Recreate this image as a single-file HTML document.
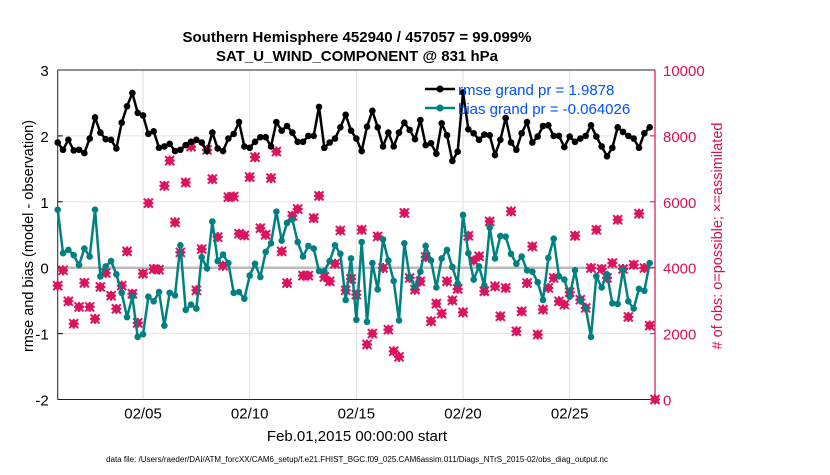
<!DOCTYPE html>
<html><head><meta charset="utf-8"><style>
body{margin:0;background:#fff;}
svg{font-family:"Liberation Sans",sans-serif;}
</style></head><body>
<svg id="chart" width="830" height="470" viewBox="0 0 830 470">
<rect width="830" height="470" fill="#fff"/>
<text x="357" y="42" text-anchor="middle" font-size="15" font-weight="bold">Southern Hemisphere 452940 / 457057 = 99.099%</text>
<text x="357" y="61" text-anchor="middle" font-size="15" font-weight="bold">SAT_U_WIND_COMPONENT @ 831 hPa</text>
<g id="grid"></g>
<g id="axes"></g>
<g id="series"></g>
<g id="legend">
<line x1="425" y1="89" x2="455" y2="89" stroke="#000" stroke-width="2.5"/>
<circle cx="440" cy="89" r="3.5" fill="#000"/>
<text x="458" y="95" font-size="15" fill="#0050ff">rmse grand pr = 1.9878</text>
<line x1="425" y1="108" x2="455" y2="108" stroke="#008080" stroke-width="2.5"/>
<circle cx="440" cy="108" r="3.5" fill="#008080"/>
<text x="458" y="114" font-size="15" fill="#0050ff">bias grand pr = -0.064026</text>
</g>
<text transform="translate(33,236) rotate(-90)" text-anchor="middle" font-size="14.5">rmse and bias (model - observation)</text>
<text transform="translate(722,236) rotate(-90)" text-anchor="middle" font-size="14.5" fill="#d6105a"># of obs: o=possible; ×=assimilated</text>
<text x="357" y="441" text-anchor="middle" font-size="15">Feb.01,2015 00:00:00 start</text>
<text x="357" y="462" text-anchor="middle" font-size="8">data file: /Users/raeder/DAI/ATM_forcXX/CAM6_setup/f.e21.FHIST_BGC.f09_025.CAM6assim.011/Diags_NTrS_2015-02/obs_diag_output.nc</text>
</svg>
<script>
const rmse=[1.90,1.79,1.94,1.78,1.79,1.74,1.96,2.28,2.05,1.95,1.94,1.81,2.20,2.45,2.65,2.35,2.31,2.03,2.07,1.82,1.84,1.88,1.77,1.79,1.86,1.91,1.94,1.90,
1.77,2.05,1.81,1.77,1.96,2.03,2.21,1.84,1.82,1.91,1.98,1.98,1.84,2.21,2.08,2.15,2.05,1.91,1.91,2.00,2.00,2.44,1.82,1.90,1.96,2.13,2.32,2.08,
1.96,1.77,2.14,2.38,2.13,1.84,2.05,1.84,2.05,2.20,2.09,1.95,2.24,1.86,1.89,1.73,2.19,2.01,1.62,1.76,2.66,2.10,2.04,1.94,2.02,2.01,1.71,1.94,
2.27,1.90,1.79,2.04,2.21,1.90,1.99,2.15,2.16,2.00,2.00,1.83,1.99,1.91,1.96,2.00,2.16,1.99,1.84,1.69,1.82,2.13,2.06,2.00,1.96,1.82,2.04,2.13];
const bias=[0.88,0.22,0.27,0.19,0.04,0.29,0.17,0.88,-0.13,0.02,0.10,-0.10,-0.38,-0.75,-0.44,-1.05,-1.01,-0.44,-0.51,-0.37,-0.88,-0.38,-0.42,0.34,-0.64,-0.56,-0.62,0.16,
-0.01,0.70,0.10,0.20,0.07,-0.38,-0.37,-0.47,-0.12,0.06,-0.14,0.24,0.37,0.85,0.41,0.68,0.73,0.39,0.17,0.33,0.29,-0.05,-0.05,0.10,0.34,0.21,-0.49,0.14,
-0.79,0.39,-0.82,0.07,-0.33,0.43,0.11,-0.20,-0.80,0.37,-0.14,-0.29,-0.06,0.33,0.11,-0.30,0.14,0.27,0.01,-0.24,0.80,0.22,-0.18,0.02,-0.27,0.61,0.14,0.48,
0.47,0.21,0.06,0.17,-0.04,-0.06,-0.22,-0.49,0.15,0.44,-0.13,-0.18,-0.44,-0.04,-0.50,-0.61,-1.05,-0.13,-0.30,-0.10,-0.54,-0.55,-0.03,-0.51,-0.62,-0.32,-0.35,0.07];
const nobs=[3455,3920,2980,2300,2810,3540,2810,2445,3415,3840,3150,2750,3455,4495,3210,2325,3820,5960,3960,3940,6485,7250,5375,4465,6585,7675,3315,4565,
7575,6690,4930,4060,6140,6160,5030,4980,6750,7355,5200,5000,6720,7525,4495,3535,5575,5780,3760,3760,5505,6180,3720,3585,4120,5130,3315,3660,
3180,5150,1670,2000,4950,3990,2120,1465,1295,5660,3690,3335,3585,4325,2375,2910,2605,3585,3010,3355,2645,4970,4220,4345,3285,5405,3435,2525,
3385,5710,2070,2675,3535,4645,1970,2730,3385,3690,2980,2880,3255,4970,3030,2780,3990,5150,3960,3690,4140,5455,3960,2505,4090,5640,3990,2245,0];
const leftTicks=[3,2,1,0,-1,-2];
const rightTicks=[0,2000,4000,6000,8000,10000];
const dayTicks=[4,9,14,19,24];
const dayLabels=["02/05","02/10","02/15","02/20","02/25"];

const X0=57.7,X1=655,Y0=70,Y1=399.5,PXD=(X1-X0)/28;
const x=d=>X0+d*PXD;
const y=v=>Y0+(3-v)*(Y1-Y0)/5;
const yr=n=>Y1-n*(Y1-Y0)/10000;
const NS="http://www.w3.org/2000/svg";
function mk(tag,attrs,parent){const e=document.createElementNS(NS,tag);for(const k in attrs)e.setAttribute(k,attrs[k]);parent.appendChild(e);return e;}
const grid=document.getElementById('grid'),axes=document.getElementById('axes'),ser=document.getElementById('series');
dayTicks.forEach((d,i)=>{
 const g=mk('line',{x1:x(d),x2:x(d),y1:Y0,y2:Y1,stroke:'#ddd','stroke-width':1},grid);
 
 
 const t=mk('text',{x:x(d),y:Y1+19,'text-anchor':'middle','font-size':15},axes);
 t.textContent=dayLabels[i];
 
 
});
rightTicks.forEach(n=>{
 if(n>0&&n<10000){const g=mk('line',{x1:X0,x2:X1,y1:yr(n),y2:yr(n),stroke:'#f2dbe4','stroke-width':1},grid);
 
 }
 const t=mk('text',{x:X1+8,y:yr(n)+6,'font-size':15,fill:'#d6105a'},axes);
 t.textContent=n;
 
 
 mk('line',{x1:X1-5,x2:X1,y1:yr(n),y2:yr(n),stroke:'#d6105a'},axes);
});
const z=mk('line',{x1:X0,x2:X1,y1:y(0),y2:y(0),stroke:'#bbb','stroke-width':2.5},grid);


leftTicks.forEach(v=>{
 const t=mk('text',{x:X0-9,y:y(v)+6,'text-anchor':'end','font-size':15},axes);
 t.textContent=v;
 
 
 mk('line',{x1:X0,x2:X0+5,y1:y(v),y2:y(v),stroke:'#000'},axes);
});
mk('line',{x1:X0,x2:X1,y1:Y0,y2:Y0,stroke:'#222'},axes);
mk('line',{x1:X0,x2:X1,y1:Y1,y2:Y1,stroke:'#222'},axes);
mk('line',{x1:X0,x2:X0,y1:Y0,y2:Y1,stroke:'#222'},axes);
const ra=mk('line',{x1:X1,x2:X1,y1:Y0,y2:Y1,stroke:'#d6105a','stroke-width':1.2},axes);


nobs.forEach((n,i)=>{
 const cx=x(i*0.25),cy=yr(n);
 const g=mk('g',{stroke:'#dc1460','stroke-width':2,fill:'#dc1460'},ser);
 
 
 mk('circle',{cx:cx,cy:cy,r:3},g);
 mk('path',{d:`M${cx-4.5} ${cy-4.5}L${cx+4.5} ${cy+4.5}M${cx-4.5} ${cy+4.5}L${cx+4.5} ${cy-4.5}M${cx-5} ${cy}L${cx+5} ${cy}M${cx} ${cy-5}L${cx} ${cy+5}`},g);
});
function line(data,color,name){
 const p=mk('polyline',{points:data.map((v,i)=>x(i*0.25)+','+y(v)).join(' '),fill:'none',stroke:color,'stroke-width':2.5},ser);
 
 
 data.forEach((v,i)=>{const c=mk('circle',{cx:x(i*0.25),cy:y(v),r:3.3,fill:color},ser);
 
 });
}
line(bias,'#008080','bias');
line(rmse,'#000','rmse');
</script>
</body></html>
